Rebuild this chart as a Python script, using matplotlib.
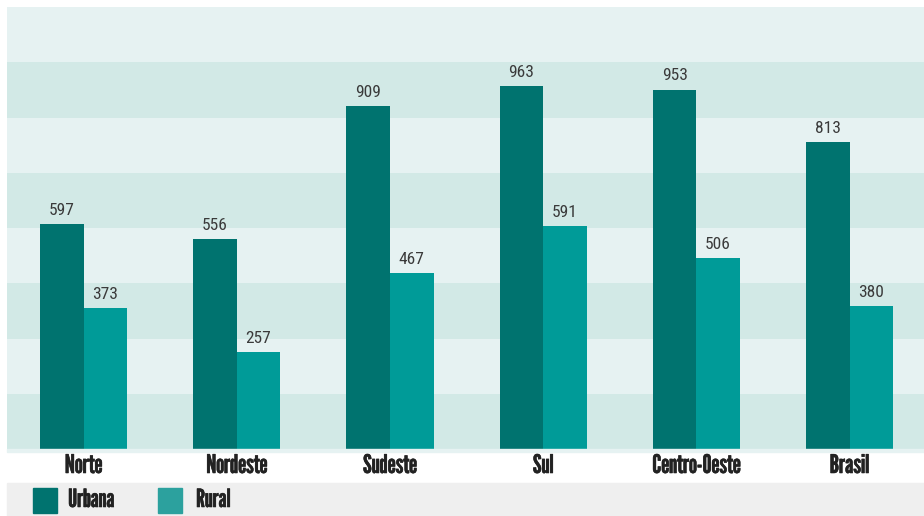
import matplotlib
matplotlib.use("Agg")
import matplotlib.pyplot as plt
from matplotlib.patches import Rectangle
from matplotlib import transforms
import matplotlib.patheffects as pe
import numpy as np

LABEL_FONT = ["League Gothic", "Oswald", "DejaVu Sans"]
VALUE_FONT = ["Roboto Condensed", "DejaVu Sans"]
plt.rcParams['font.family'] = VALUE_FONT

categories = ["Norte", "Nordeste", "Sudeste", "Sul", "Centro-Oeste", "Brasil"]
urbana = [597, 556, 909, 963, 953, 813]
rural = [373, 257, 467, 591, 506, 380]
series_names = ["Urbana", "Rural"]

W, H = 924, 516
fig = plt.figure(figsize=(W / 100, H / 100), dpi=100)
fig.patch.set_facecolor("white")

left, right, top, bottom = 7, 924, 7, 449
ax = fig.add_axes([left / W, (H - bottom) / H, (right - left) / W, (bottom - top) / H])

ymax = 1172
nb = 8
bh = ymax / nb
for i in range(nb):
    ax.axhspan(i * bh, (i + 1) * bh, color="#D2E9E6" if i % 2 == 0 else "#E6F2F2", lw=0, zorder=0)

x = np.arange(len(categories))
w = 0.284
c_urb = "#00736F"
c_rur = "#009B98"
b1 = ax.bar(x - w / 2, urbana, w, color=c_urb, zorder=2)
b2 = ax.bar(x + w / 2, rural, w, color=c_rur, zorder=2)
for bars, vals in ((b1, urbana), (b2, rural)):
    for b, v in zip(bars, vals):
        ax.annotate(str(v), (b.get_x() + b.get_width() / 2, v), xytext=(0, 6.6),
                    textcoords="offset points", ha="center", va="baseline",
                    fontsize=12.5, color="#3A3A3A", family=VALUE_FONT)

ax.set_xlim(-0.5, -0.5 + (right - left) / 153.2)
ax.set_ylim(0, ymax)
ax.set_xticks([])
ax.set_yticks([])
for s in ax.spines.values():
    s.set_visible(False)

def fy(py):
    return (H - py) / H

bold = [pe.withStroke(linewidth=0.4, foreground="#222222")]

# thin light strip under plot
fig.patches.append(Rectangle((left / W, fy(451.5)), (W - left) / W, 2.5 / H,
                             transform=fig.transFigure, color="#E6F2F2", zorder=0))

tr = transforms.blended_transform_factory(ax.transData, fig.transFigure)
for xi, c in zip(x, categories):
    ax.text(xi, fy(473), c, transform=tr, ha="center", va="baseline",
            fontsize=18.5, family=LABEL_FONT, color="#222222", clip_on=False,
            path_effects=bold)

# legend band
fig.patches.append(Rectangle((left / W, 0), (W - left) / W, (516 - 483) / H,
                             transform=fig.transFigure, color="#EFEFEF", zorder=0))
for px, col, name, tx in ((33, c_urb, series_names[0], 68), (158, "#2CA19E", series_names[1], 196)):
    fig.patches.append(Rectangle((px / W, fy(512.5)), 24 / W, 24.5 / H,
                                 transform=fig.transFigure, color=col, zorder=1))
    fig.text(tx / W, fy(507), name, fontsize=18, family=LABEL_FONT, color="#222222",
             va="baseline", ha="left", path_effects=bold)

fig.savefig("out.png", dpi=100)
